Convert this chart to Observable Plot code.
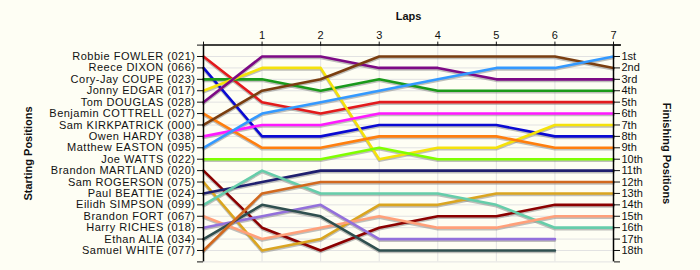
<!DOCTYPE html>
<html>
<head>
<meta charset="utf-8">
<script src="https://cdn.jsdelivr.net/npm/d3@7"></script>
<script src="https://cdn.jsdelivr.net/npm/@observablehq/plot@0.6"></script>
<style>
  html, body { margin: 0; padding: 0; background: #fefef4; }
  #chart svg { display: block; }
</style>
</head>
<body>
<div id="chart"></div>
<script>
// Drivers in starting order
const drivers = [
  "Robbie FOWLER (021)", "Reece DIXON (066)", "Cory-Jay COUPE (023)", "Jonny EDGAR (017)",
  "Tom DOUGLAS (028)", "Benjamin COTTRELL (027)", "Sam KIRKPATRICK (000)", "Owen HARDY (038)",
  "Matthew EASTON (095)", "Joe WATTS (022)", "Brandon MARTLAND (020)", "Sam ROGERSON (075)",
  "Paul BEATTIE (024)", "Eilidh SIMPSON (099)", "Brandon FORT (067)", "Harry RICHES (018)",
  "Ethan ALIA (034)", "Samuel WHITE (077)"
];
const laps = [0, 1, 2, 3, 4, 5, 6, 7];
// Position of each driver at lap 0..7 (same order as drivers)
const positions = [
  [1, 5, 6, 5, 5, 5, 5, 5],
  [2, 8, 8, 7, 7, 7, 8, 8],
  [3, 3, 4, 3, 4, 4, 4, 4],
  [4, 2, 2, 10, 9, 9, 7, 7],
  [5, 1, 1, 2, 2, 3, 3, 3],
  [6, 9, 9, 8, 8, 8, 9, 9],
  [7, 4, 3, 1, 1, 1, 1, 2],
  [8, 7, 7, 6, 6, 6, 6, 6],
  [9, 6, 5, 4, 3, 2, 2, 1],
  [10, 10, 10, 9, 10, 10, 10, 10],
  [11, 16, 18, 16, 15, 15, 14, 14],
  [12, 18, 17, 14, 14, 13, 13, 13],
  [13, 12, 11, 11, 11, 11, 11, 11],
  [14, 11, 13, 13, 13, 14, 16, 16],
  [15, 17, 16, 15, 16, 16, 15, 15],
  [16, 15, 14, 17, 17, 17, 17],
  [17, 14, 15, 18, 18, 18, 18],
  [18, 13, 12, 12, 12, 12, 12, 12]
];
const finishLabels = ["1st","2nd","3rd","4th","5th","6th","7th","8th","9th","10th",
  "11th","12th","13th","14th","15th","16th","17th","18th"];

const palette = ["#e31a1c", "#0a0ad2", "#1a9a1a", "#f5e20a", "#7d0a85", "#ff7f0e",
  "#7a3e10", "#ff1aff", "#3399ff", "#7fff00", "#8b0000", "#daa520",
  "#1f1f6f", "#66cdaa", "#ffa07a", "#9370db", "#2f4f4f", "#d2691e"];

const rows = [];
drivers.forEach((d, i) => {
  positions[i].forEach((p, j) => rows.push({driver: d, lap: laps[j], pos: p}));
});

const ticks = d3.range(0, 20);

const chart = Plot.plot({
  width: 700,
  height: 270,
  marginLeft: 203,
  marginRight: 87,
  marginTop: 44.6,
  marginBottom: 8.6,
  style: {fontFamily: "'Liberation Sans', Arial, sans-serif", fontSize: "11px", background: "#fefef4", color: "#111"},
  x: {domain: [0, 7]},
  y: {domain: [0, 19], reverse: true},
  color: {domain: drivers, range: palette},
  marks: [
    Plot.gridY(d3.range(1, 20), {stroke: "#e2e2e2", strokeOpacity: 1}),
    Plot.gridX([1, 2, 3, 4, 5, 6], {stroke: "#e2e2e2", strokeOpacity: 1}),
    Plot.line(rows, {x: "lap", y: "pos", z: "driver", stroke: "#8a8a8a", strokeOpacity: 0.55, strokeWidth: 2.6, dy: 1.5}),
    Plot.line(rows, {x: "lap", y: "pos", z: "driver", stroke: "driver", strokeWidth: 2.6}),
    Plot.ruleX([0], {stroke: "#000", strokeWidth: 1.5}),
    Plot.ruleX([7], {stroke: "#000", strokeWidth: 1.5}),
    Plot.ruleY([0], {stroke: "#000", strokeWidth: 1.5, insetRight: -8}),
    Plot.axisX({anchor: "top", ticks: laps, tickFormat: d => d === 0 ? "" : d, tickSize: 4, tickPadding: 2, label: null, fontSize: 11}),
    Plot.axisY({anchor: "left", ticks, tickFormat: d => (d >= 1 && d <= 18) ? drivers[d - 1] : "", tickSize: 6, tickPadding: 2, label: null, fontSize: 11}),
    Plot.axisY({anchor: "right", ticks, tickFormat: d => (d >= 1 && d <= 18) ? finishLabels[d - 1] : "", tickSize: 6, tickPadding: 2, label: null, fontSize: 11}),
    Plot.text(["Laps"], {frameAnchor: "top", dy: -29, fontWeight: "bold", fontSize: 11, textAnchor: "middle", lineAnchor: "middle"}),
    Plot.text(["Starting Positions"], {frameAnchor: "left", dx: -175, rotate: -90, fontWeight: "bold", fontSize: 11, textAnchor: "middle", lineAnchor: "middle"}),
    Plot.text(["Finishing Positions"], {frameAnchor: "right", dx: 53, rotate: 90, fontWeight: "bold", fontSize: 11, textAnchor: "middle", lineAnchor: "middle"})
  ]
});
// widen the starting-position labels slightly to match the reference typeface
const yLabelGroups = chart.querySelectorAll('g[aria-label="y-axis tick label"]');
if (yLabelGroups.length) yLabelGroups[0].setAttribute("letter-spacing", "0.5");
document.getElementById("chart").appendChild(chart);
</script>
</body>
</html>
